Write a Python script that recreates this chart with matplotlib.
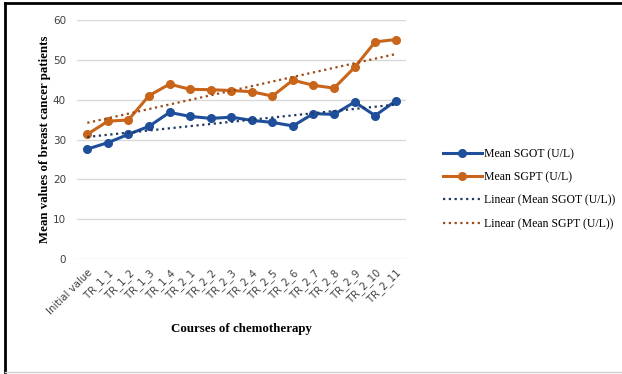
import numpy as np
import matplotlib
matplotlib.use('Agg')
import matplotlib.pyplot as plt
from matplotlib.lines import Line2D

# chemotherapy courses on the x axis
courses = ['Initial value', 'TR_1_1', 'TR_1_2', 'TR_1_3', 'TR_1_4', 'TR_2_1', 'TR_2_2', 'TR_2_3',
           'TR_2_4', 'TR_2_5', 'TR_2_6', 'TR_2_7', 'TR_2_8', 'TR_2_9', 'TR_2_10', 'TR_2_11']
# values
sgot = [27.6, 29.2, 31.3, 33.3, 36.8, 35.8, 35.3, 35.6, 34.8, 34.3, 33.4, 36.5, 36.3, 39.4, 36.0, 39.7]
sgpt = [31.3, 34.6, 34.9, 41.0, 43.9, 42.6, 42.5, 42.3, 42.0, 40.9, 44.9, 43.6, 42.9, 48.1, 54.5, 55.1]

blue = '#1f4e9a'
orange = '#c8651b'

fig = plt.figure(figsize=(6.22, 3.74), dpi=100)
ax = fig.add_axes([77/622, 1 - 259/374, (406-77)/622, (259-20)/374])

x = np.arange(len(courses))
ax.plot(x, sgot, color=blue, lw=2.2, marker='o', ms=5.5, label='Mean SGOT (U/L)')
ax.plot(x, sgpt, color=orange, lw=2.2, marker='o', ms=5.5, label='Mean SGPT (U/L)')

# Excel style linear trendlines
k1, b1 = np.polyfit(x, sgot, 1)
k2, b2 = np.polyfit(x, sgpt, 1)
ax.plot(x, k1 * x + b1, color='#1f3864', lw=1.6, ls=(0, (1, 1.6)), label='Linear (Mean SGOT (U/L))')
ax.plot(x, k2 * x + b2, color='#9c4a17', lw=1.6, ls=(0, (1, 1.6)), label='Linear (Mean SGPT (U/L))')

ax.set_xlim(-0.5, len(courses) - 0.5)
ax.set_ylim(0, 60)
ax.set_yticks(range(0, 61, 10))
ax.set_xticks(x)
ax.set_xticklabels(courses, rotation=45, ha='right', rotation_mode='anchor', fontsize=7.3, color='#404040')
ax.tick_params(axis='y', labelsize=7.5, colors='#404040', length=0, pad=8)
ax.tick_params(axis='x', length=0, pad=6)
ax.grid(axis='y', color='#d9d9d9', lw=1)
ax.set_axisbelow(True)
for s in ax.spines.values():
    s.set_visible(False)

ax.set_ylabel('Mean values of breast cancer patients', family='Liberation Serif', fontweight='bold', fontsize=9.3, labelpad=1)
ax.set_xlabel('Courses of chemotherapy', family='Liberation Serif', fontweight='bold', fontsize=9.3, labelpad=5)

ax.legend(loc='center left', bbox_to_anchor=(443/622, 1 - 189/374), bbox_transform=fig.transFigure,
          frameon=False, borderaxespad=0, borderpad=0,
          prop={'family': 'Liberation Serif', 'size': 8.5}, handlelength=3.3, handletextpad=0.2, labelspacing=0.95)

# outer frame of the picture
fig.add_artist(Line2D([5/622, 1], [1 - 3/374, 1 - 3/374], color='black', lw=2))
fig.add_artist(Line2D([5/622, 5/622], [1 - 3/374, 2/374], color='black', lw=2))
fig.add_artist(Line2D([5/622, 1], [2/374, 2/374], color='#d0d0d0', lw=1))

fig.savefig('out.png', dpi=100)
